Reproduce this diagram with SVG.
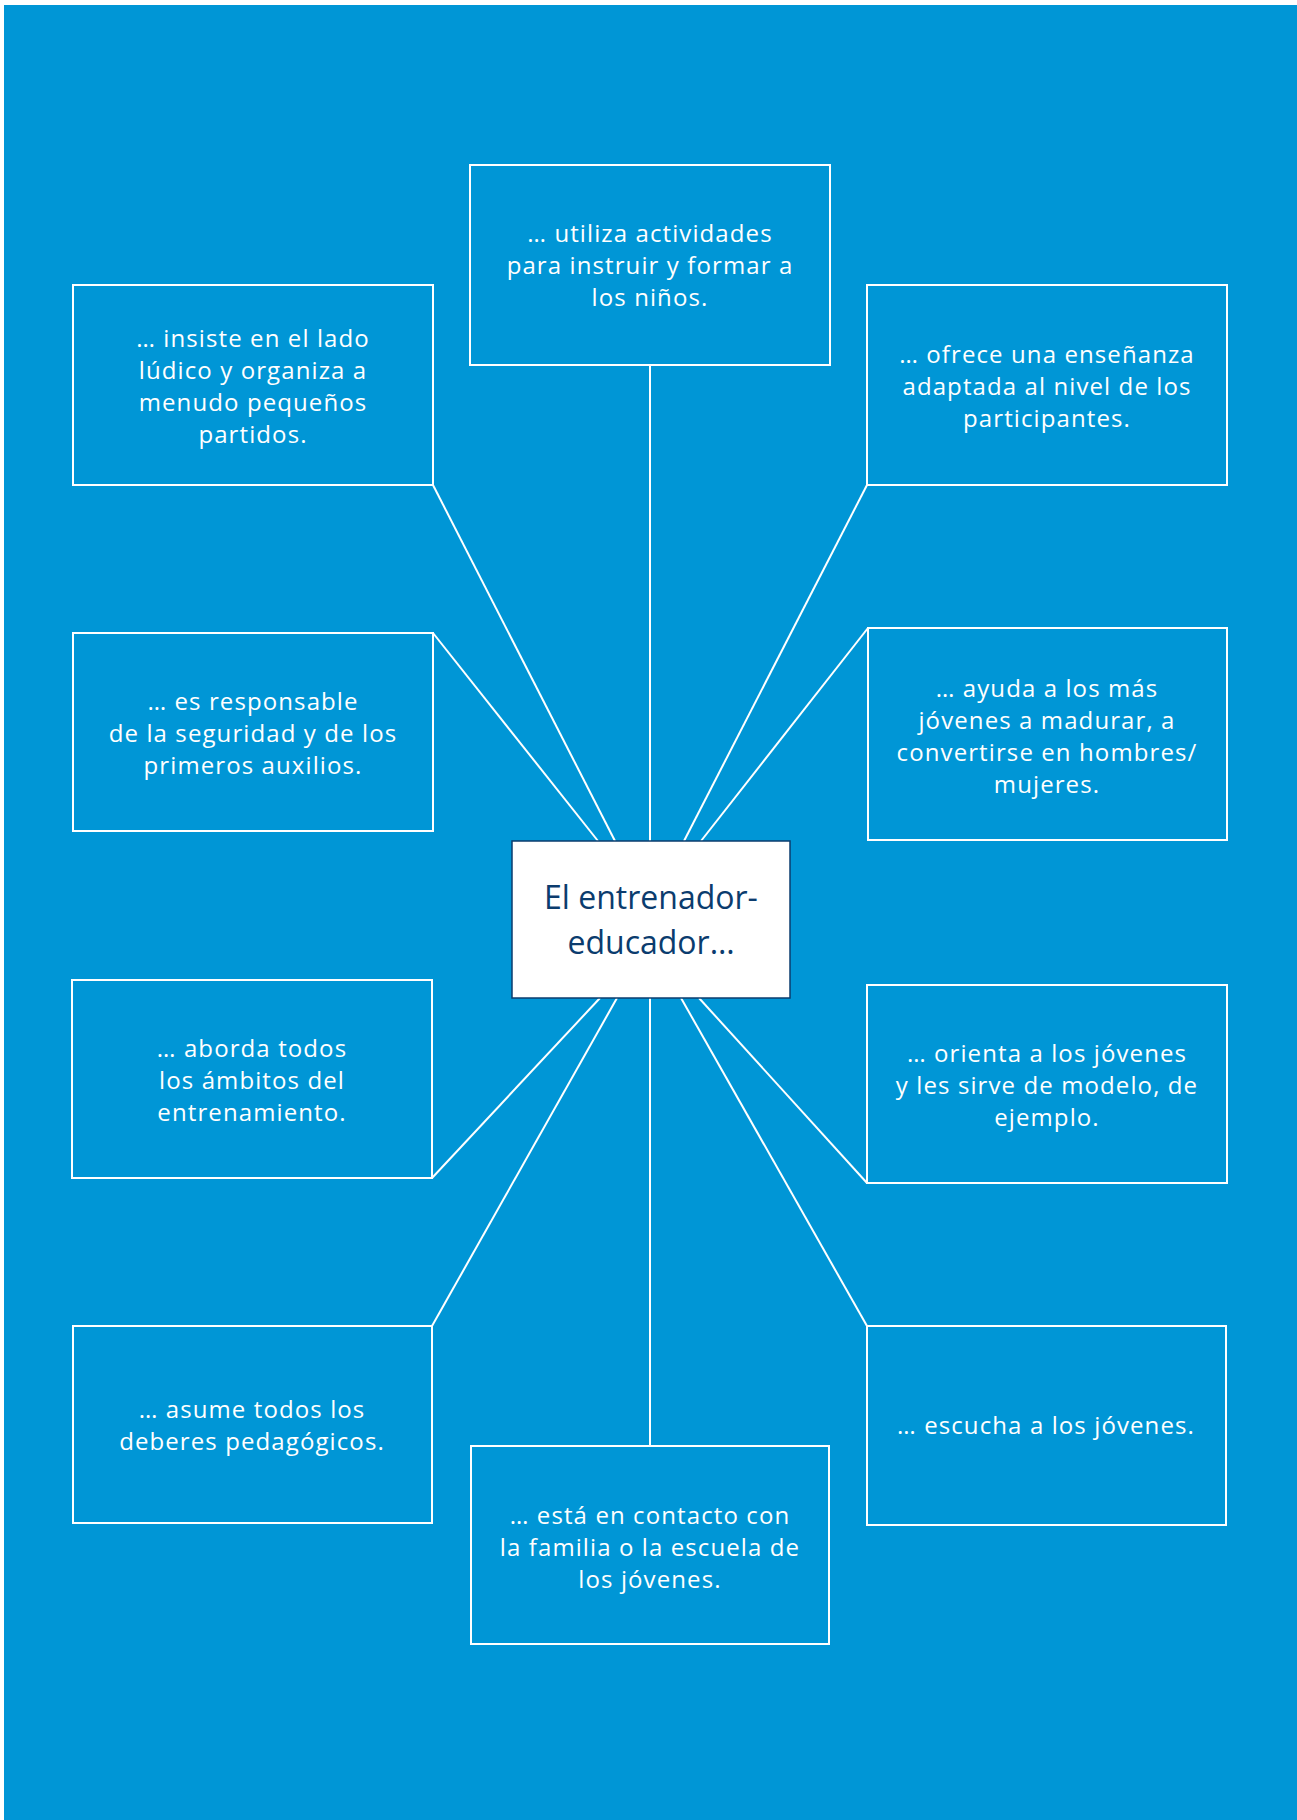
<svg xmlns="http://www.w3.org/2000/svg" width="1297" height="1820" viewBox="0 0 1297 1820">
<style>
.box{fill:none;stroke:#fff;stroke-width:2}
.t{font-family:"Open Sans","Noto Sans","Liberation Sans",sans-serif;font-size:24px;letter-spacing:1.1px;fill:#fff;text-anchor:middle}
.c{font-family:"Open Sans","Noto Sans","Liberation Sans",sans-serif;font-size:32px;fill:#0b3c6e;text-anchor:middle}
.ln{stroke:#fff;stroke-width:2;fill:none}
</style>
<rect x="0" y="0" width="1297" height="1820" fill="#fff"/>
<rect x="4" y="5" width="1293" height="1815" fill="#0096d6"/>
<g id="connectors">
<line class="ln" x1="650" y1="365" x2="650" y2="841"/>
<line class="ln" x1="433" y1="485" x2="615" y2="841"/>
<line class="ln" x1="433" y1="633" x2="598" y2="841"/>
<line class="ln" x1="867" y1="485" x2="684" y2="841"/>
<line class="ln" x1="868" y1="628" x2="701" y2="841"/>
<line class="ln" x1="600" y1="998" x2="432" y2="1178"/>
<line class="ln" x1="617" y1="998" x2="432" y2="1326"/>
<line class="ln" x1="650" y1="998" x2="650" y2="1446"/>
<line class="ln" x1="681" y1="998" x2="867" y2="1326"/>
<line class="ln" x1="699" y1="998" x2="867" y2="1183"/>
</g>
<g id="center">
<rect x="512" y="841" width="278" height="157" fill="#fff" stroke="#0b3c6e" stroke-width="1.5"/>
<text class="c" x="651" y="909">El entrenador-</text>
<text class="c" x="651" y="954">educador…</text>
</g>
<g id="n-top">
<rect class="box" x="470" y="165" width="360" height="200"/>
<text class="t" x="650" y="242">… utiliza actividades</text>
<text class="t" x="650" y="274">para instruir y formar a</text>
<text class="t" x="650" y="306">los niños.</text>
</g>
<g id="n-tl">
<rect class="box" x="73" y="285" width="360" height="200"/>
<text class="t" x="253" y="347">… insiste en el lado</text>
<text class="t" x="253" y="379">lúdico y organiza a</text>
<text class="t" x="253" y="411">menudo pequeños</text>
<text class="t" x="253" y="443">partidos.</text>
</g>
<g id="n-tr">
<rect class="box" x="867" y="285" width="360" height="200"/>
<text class="t" x="1047" y="363">… ofrece una enseñanza</text>
<text class="t" x="1047" y="395">adaptada al nivel de los</text>
<text class="t" x="1047" y="427">participantes.</text>
</g>
<g id="n-l2">
<rect class="box" x="73" y="633" width="360" height="198"/>
<text class="t" x="253" y="710">… es responsable</text>
<text class="t" x="253" y="742">de la seguridad y de los</text>
<text class="t" x="253" y="774">primeros auxilios.</text>
</g>
<g id="n-r2">
<rect class="box" x="868" y="628" width="359" height="212"/>
<text class="t" x="1047" y="697">… ayuda a los más</text>
<text class="t" x="1047" y="729">jóvenes a madurar, a</text>
<text class="t" x="1047" y="761">convertirse en hombres/</text>
<text class="t" x="1047" y="793">mujeres.</text>
</g>
<g id="n-l3">
<rect class="box" x="72" y="980" width="360" height="198"/>
<text class="t" x="252" y="1057">… aborda todos</text>
<text class="t" x="252" y="1089">los ámbitos del</text>
<text class="t" x="252" y="1121">entrenamiento.</text>
</g>
<g id="n-r3">
<rect class="box" x="867" y="985" width="360" height="198"/>
<text class="t" x="1047" y="1062">… orienta a los jóvenes</text>
<text class="t" x="1047" y="1094">y les sirve de modelo, de</text>
<text class="t" x="1047" y="1126">ejemplo.</text>
</g>
<g id="n-l4">
<rect class="box" x="73" y="1326" width="359" height="197"/>
<text class="t" x="252" y="1418">… asume todos los</text>
<text class="t" x="252" y="1450">deberes pedagógicos.</text>
</g>
<g id="n-bottom">
<rect class="box" x="471" y="1446" width="358" height="198"/>
<text class="t" x="650" y="1524">… está en contacto con</text>
<text class="t" x="650" y="1556">la familia o la escuela de</text>
<text class="t" x="650" y="1588">los jóvenes.</text>
</g>
<g id="n-r4">
<rect class="box" x="867" y="1326" width="359" height="199"/>
<text class="t" x="1046" y="1434">… escucha a los jóvenes.</text>
</g>
</svg>
